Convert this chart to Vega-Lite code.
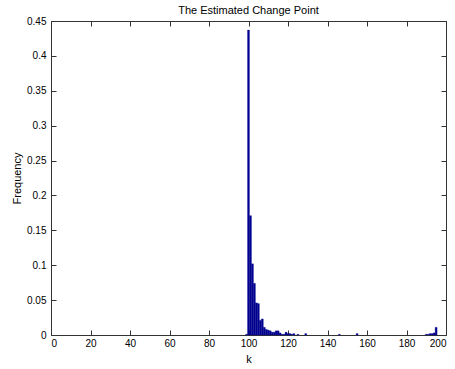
{
  "$schema": "https://vega.github.io/schema/vega-lite/v6.json",
  "autosize": "none",
  "width": 395,
  "height": 314,
  "padding": {"left": 51, "top": 21, "right": 9, "bottom": 34},
  "background": "white",
  "config": {
    "font": "Liberation Sans",
    "view": {"stroke": "#333", "strokeWidth": 1},
    "axis": {
      "grid": false,
      "domain": false,
      "tickColor": "#333",
      "tickSize": -5,
      "labelFont": "Liberation Sans",
      "labelFontSize": 10,
      "labelColor": "#000",
      "titleFont": "Liberation Sans",
      "titleFontSize": 11,
      "titleFontWeight": "normal",
      "titleColor": "#000"
    }
  },
  "title": {"text": "The Estimated Change Point", "fontSize": 11, "fontWeight": "normal", "font": "Liberation Sans", "offset": 0, "dy": 0},
  "data": {
    "values": [
      {"lo": 98.5, "hi": 99.5, "f": 0.001},
      {"lo": 99.5, "hi": 100.5, "f": 0.437},
      {"lo": 100.5, "hi": 101.5, "f": 0.171},
      {"lo": 101.5, "hi": 102.5, "f": 0.102},
      {"lo": 102.5, "hi": 103.5, "f": 0.074},
      {"lo": 103.5, "hi": 104.5, "f": 0.046},
      {"lo": 104.5, "hi": 105.5, "f": 0.045},
      {"lo": 105.5, "hi": 106.5, "f": 0.021},
      {"lo": 106.5, "hi": 107.5, "f": 0.023},
      {"lo": 107.5, "hi": 108.5, "f": 0.011},
      {"lo": 108.5, "hi": 109.5, "f": 0.008},
      {"lo": 109.5, "hi": 110.5, "f": 0.007},
      {"lo": 110.5, "hi": 111.5, "f": 0.006},
      {"lo": 111.5, "hi": 112.5, "f": 0.004},
      {"lo": 112.5, "hi": 113.5, "f": 0.004},
      {"lo": 113.5, "hi": 114.5, "f": 0.006},
      {"lo": 114.5, "hi": 115.5, "f": 0.006},
      {"lo": 115.5, "hi": 116.5, "f": 0.003},
      {"lo": 116.5, "hi": 117.5, "f": 0.001},
      {"lo": 117.5, "hi": 118.5, "f": 0.001},
      {"lo": 118.5, "hi": 119.5, "f": 0.004},
      {"lo": 119.5, "hi": 120.5, "f": 0.002},
      {"lo": 120.5, "hi": 121.5, "f": 0.002},
      {"lo": 121.5, "hi": 122.5, "f": 0.001},
      {"lo": 122.5, "hi": 123.5, "f": 0.002},
      {"lo": 124.5, "hi": 125.5, "f": 0.001},
      {"lo": 128.5, "hi": 129.5, "f": 0.002},
      {"lo": 145.5, "hi": 146.5, "f": 0.001},
      {"lo": 154.5, "hi": 155.5, "f": 0.002},
      {"lo": 189.5, "hi": 190.5, "f": 0.001},
      {"lo": 190.5, "hi": 191.5, "f": 0.001},
      {"lo": 191.5, "hi": 192.5, "f": 0.002},
      {"lo": 192.5, "hi": 193.5, "f": 0.002},
      {"lo": 193.5, "hi": 194.5, "f": 0.003},
      {"lo": 194.5, "hi": 195.5, "f": 0.011}
    ]
  },
  "layer": [
    {
      "mark": {"type": "bar", "color": "#00008F", "stroke": "#00008F", "strokeWidth": 0.3},
      "encoding": {
        "x": {"field": "lo", "type": "quantitative", "scale": {"domain": [0, 200], "nice": false},
              "axis": {"orient": "bottom", "title": "k", "values": [0,20,40,60,80,100,120,140,160,180,200], "labelPadding": 8, "titlePadding": 5}},
        "x2": {"field": "hi"},
        "y": {"field": "f", "type": "quantitative", "scale": {"domain": [0, 0.45], "nice": false},
              "axis": {"orient": "left", "title": "Frequency", "values": [0,0.05,0.1,0.15,0.2,0.25,0.3,0.35,0.4,0.45], "format": "~g", "labelPadding": 10, "titlePadding": 4}},
        "y2": {"datum": 0}
      }
    },
    {
      "mark": {"type": "bar", "opacity": 0},
      "encoding": {
        "x": {"field": "lo", "type": "quantitative",
              "axis": {"orient": "top", "title": null, "labels": false, "values": [0,20,40,60,80,100,120,140,160,180,200]}},
        "x2": {"field": "hi"},
        "y": {"field": "f", "type": "quantitative",
              "axis": {"orient": "right", "title": null, "labels": false, "values": [0,0.05,0.1,0.15,0.2,0.25,0.3,0.35,0.4,0.45]}},
        "y2": {"datum": 0}
      }
    }
  ]
}
